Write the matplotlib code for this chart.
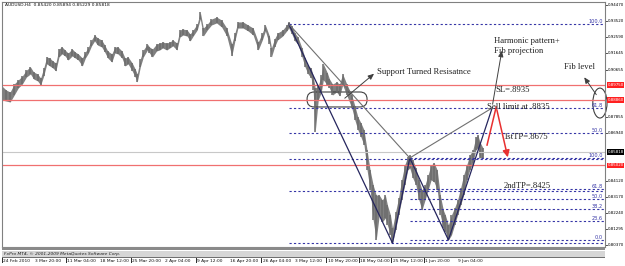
import matplotlib
matplotlib.use("Agg")
import matplotlib.pyplot as plt
from matplotlib.patches import Ellipse, FancyBboxPatch, Rectangle

bar_idx = [0, 4, 8, 12, 16, 20, 24, 28, 31, 35, 38, 41, 44, 47, 50, 53, 56, 59, 62, 65,
           69, 72, 75, 79, 82, 85, 88, 91, 94, 98, 101, 104, 108, 111, 114, 118, 121, 124,
           128, 131, 133, 136, 139, 143, 145, 148, 152, 155, 158, 162, 165, 168, 172, 175,
           178, 182, 185, 188, 192, 195, 198, 202, 206, 211, 216, 221, 226, 229, 232, 237,
           242, 247, 252, 256, 259, 263, 265, 268, 271, 276, 280, 282, 285, 288, 291, 295,
           298, 301, 304, 306, 308, 311, 314, 316, 320, 322, 325, 329, 332, 335, 339, 344,
           347, 350, 353, 356, 359, 362, 365, 368, 371, 374, 377, 379, 382, 384, 387, 390,
           393, 396, 399, 401, 404, 407, 410, 413, 416, 419, 422, 425, 428, 431, 434, 436,
           439, 442, 445, 448, 451, 454, 457, 460, 463, 466, 468, 470, 473]
bar_high = [0.8969, 0.8946, 0.8934, 0.8981, 0.9005, 0.9028, 0.9063, 0.9081, 0.9052, 0.9040,
            0.9016, 0.9075, 0.9140, 0.9134, 0.9116, 0.9105, 0.9187, 0.9199, 0.9181, 0.9163,
            0.9187, 0.9169, 0.9158, 0.9134, 0.9169, 0.9199, 0.9240, 0.9269, 0.9252, 0.9240,
            0.9210, 0.9175, 0.9158, 0.9199, 0.9199, 0.9175, 0.9134, 0.9140, 0.9105, 0.9069,
            0.9040, 0.9128, 0.9181, 0.9216, 0.9199, 0.9187, 0.9216, 0.9222, 0.9228, 0.9222,
            0.9228, 0.9240, 0.9222, 0.9299, 0.9304, 0.9299, 0.9275, 0.9299, 0.9334, 0.9404,
            0.9310, 0.9334, 0.9363, 0.9375, 0.9357, 0.9310, 0.9216, 0.9281, 0.9346, 0.9346,
            0.9328, 0.9310, 0.9228, 0.9281, 0.9328, 0.9263, 0.9193, 0.9246, 0.9281, 0.9299,
            0.9328, 0.9346, 0.9322, 0.9281, 0.9257, 0.9193, 0.9134, 0.9087, 0.9075, 0.9028,
            0.8958, 0.8969, 0.9034, 0.9099, 0.9046, 0.9011, 0.8981, 0.8993, 0.8981, 0.9040,
            0.8981, 0.8916, 0.8852, 0.8787, 0.8752, 0.8711, 0.8593, 0.8475, 0.8387, 0.8328,
            0.8328, 0.8299, 0.8328, 0.8270, 0.8211, 0.8134, 0.8228, 0.8311, 0.8417, 0.8505,
            0.8552, 0.8564, 0.8534, 0.8487, 0.8417, 0.8358, 0.8387, 0.8446, 0.8505, 0.8517,
            0.8475, 0.8328, 0.8240, 0.8211, 0.8152, 0.8211, 0.8252, 0.8299, 0.8370, 0.8446,
            0.8505, 0.8564, 0.8593, 0.8669, 0.8681, 0.8640, 0.8605]
bar_low = [0.8887, 0.8881, 0.8875, 0.8916, 0.8958, 0.8981, 0.9022, 0.9040, 0.9011, 0.8999,
           0.8975, 0.9028, 0.9099, 0.9087, 0.9075, 0.9058, 0.9140, 0.9158, 0.9146, 0.9122,
           0.9146, 0.9134, 0.9122, 0.9087, 0.9134, 0.9163, 0.9205, 0.9234, 0.9210, 0.9199,
           0.9169, 0.9134, 0.9110, 0.9163, 0.9158, 0.9134, 0.9087, 0.9099, 0.9058, 0.9022,
           0.8993, 0.9081, 0.9140, 0.9181, 0.9163, 0.9140, 0.9175, 0.9181, 0.9193, 0.9181,
           0.9193, 0.9205, 0.9181, 0.9257, 0.9269, 0.9263, 0.9234, 0.9263, 0.9299, 0.9363,
           0.9263, 0.9299, 0.9328, 0.9340, 0.9316, 0.9263, 0.9146, 0.9234, 0.9310, 0.9310,
           0.9293, 0.9269, 0.9181, 0.9240, 0.9293, 0.9216, 0.9140, 0.9199, 0.9240, 0.9263,
           0.9293, 0.9310, 0.9275, 0.9234, 0.9216, 0.9140, 0.9081, 0.9040, 0.9016, 0.8946,
           0.8699, 0.8887, 0.8934, 0.9005, 0.8975, 0.8958, 0.8916, 0.8934, 0.8911, 0.8975,
           0.8916, 0.8840, 0.8769, 0.8711, 0.8669, 0.8622, 0.8475, 0.8358, 0.8181, 0.8064,
           0.8211, 0.8170, 0.8193, 0.8152, 0.8093, 0.8046, 0.8123, 0.8211, 0.8299, 0.8387,
           0.8475, 0.8487, 0.8428, 0.8387, 0.8299, 0.8240, 0.8299, 0.8358, 0.8417, 0.8405,
           0.8358, 0.8211, 0.8134, 0.8111, 0.8064, 0.8093, 0.8152, 0.8211, 0.8270, 0.8328,
           0.8417, 0.8475, 0.8517, 0.8593, 0.8605, 0.8546, 0.8546]

# XABCD pivots
pivot_bar = [282, 384, 401, 439, 482]
pivot_price = [0.9334, 0.8046, 0.8546, 0.8064, 0.8840]

fib_ratios = [0.0, 0.236, 0.382, 0.5, 0.618, 1.0]
fib_labels = ["0.0", "23.6", "38.2", "50.0", "61.8", "100.0"]

red_levels = [0.8975, 0.8886, 0.8502]
bid_price = 0.85818
header = "AUDUSD,H4  0.85420 0.85894 0.85229 0.85818"

price_ticks = [0.94470, 0.93520, 0.92590, 0.91645, 0.90655, 0.87855, 0.86940,
               0.84120, 0.83170, 0.82240, 0.81295, 0.80370]
date_pos = [0, 31, 63, 95, 127, 159, 191, 223, 255, 287, 319, 351, 383, 415, 447]
date_labels = ["24 Feb 2010", "3 Mar 20:00", "11 Mar 04:00", "18 Mar 12:00",
               "25 Mar 20:00", "2 Apr 04:00", "9 Apr 12:00", "16 Apr 20:00",
               "26 Apr 04:00", "3 May 12:00", "10 May 20:00", "18 May 04:00",
               "25 May 12:00", "1 Jun 20:00", "9 Jun 04:00"]

W, H = 625, 266
X_MAX = 593
Y_LIM = (0.80226, 0.94632)
SERIF = "Liberation Serif"
BLUE = "#3636a6"
NAVY = "#26265e"
SMALL = 3.2
SCALE = 2.9

fig = plt.figure(figsize=(W / 100, H / 100), dpi=100)
ax = fig.add_axes([2 / W, 19 / H, 603 / W, 245 / H])
ax.set_xlim(0, X_MAX)
ax.set_ylim(*Y_LIM)
ax.set_xticks([])
ax.set_yticks([])
for s in ax.spines.values():
    s.set_color("#808080")
    s.set_linewidth(0.8)

# price bars
ax.fill_between(bar_idx, bar_low, bar_high, color="#808080", lw=0)
ax.vlines(bar_idx, bar_low, bar_high, color="#6c6c6c", lw=1.1)

# horizontal levels
for lv in red_levels:
    ax.axhline(lv, color="#f07070", lw=0.9)
ax.axhline(bid_price, color="#c8c8c8", lw=0.8)

# fib retracements: XA from X, BC from B
xa_hi, xa_lo = pivot_price[0], pivot_price[1]
bc_hi, bc_lo = pivot_price[2], pivot_price[3]
for r, lab in zip(fib_ratios, fib_labels):
    lv = xa_lo + r * (xa_hi - xa_lo)
    ax.hlines(lv, pivot_bar[0], X_MAX, colors=BLUE, linestyles=(0, (2, 2)), lw=0.8)
    if lab in ("100.0", "61.8", "50.0"):
        ax.text(X_MAX - 2, lv, lab, ha="right", va="bottom", fontsize=3.6, color=BLUE)
for r, lab in zip(fib_ratios, fib_labels):
    lv = bc_lo + r * (bc_hi - bc_lo)
    ax.hlines(lv, pivot_bar[2], X_MAX, colors=BLUE, linestyles=(0, (2, 2)), lw=0.8)
    ax.text(X_MAX - 2, lv, lab, ha="right", va="bottom", fontsize=3.6, color=BLUE)

# XABCD legs and the X-B / B-D connectors
ax.plot(pivot_bar, pivot_price, color=NAVY, lw=0.9)
ax.plot([pivot_bar[0], pivot_bar[2]], [pivot_price[0], pivot_price[2]], color="#707070", lw=0.8)
ax.plot([pivot_bar[2], pivot_bar[4]], [pivot_price[2], pivot_price[4]], color="#707070", lw=0.8)

# arrows to the notes
arrow_kw = dict(arrowstyle="-|>,head_length=0.35,head_width=0.15", color="#404040", lw=0.7)
ax.annotate("", xy=(368, 0.9052), xytext=(335, 0.8887), arrowprops=arrow_kw)
ax.annotate("", xy=(492, 0.9193), xytext=(482, 0.8846), arrowprops=arrow_kw)
ax.annotate("", xy=(571, 0.9034), xytext=(586, 0.8905), arrowprops=arrow_kw, annotation_clip=False)

# red projected move
ax.plot([477, 486], [0.8622, 0.8846], color="#e83030", lw=1.1)
ax.annotate("", xy=(498, 0.8534), xytext=(486, 0.8846),
            arrowprops=dict(arrowstyle="-|>,head_length=0.4,head_width=0.2",
                            color="#e83030", lw=1.1))

# zone markers
ax.add_patch(FancyBboxPatch((300, 0.8846), 59, 0.0088,
                            boxstyle="round,pad=0,rounding_size=7", mutation_aspect=0.000598,
                            fill=False, ec="#404040", lw=0.8))
ax.add_patch(Ellipse((588, 0.8869), 14, 0.0176, fill=False, ec="#404040", lw=0.8,
                     clip_on=False))

# notes
note_kw = dict(family=SERIF, fontsize=6.2, color="#202020", va="center")
ax.text(369, 0.9052, "Support Turned Resisatnce", **note_kw)
ax.text(484, 0.9234, "Harmonic pattern+", **note_kw)
ax.text(484, 0.9175, "Fib projection", **note_kw)
ax.text(553, 0.9081, "Fib level", **note_kw)
ax.text(485, 0.8946, "SL=.8935", **note_kw)
ax.text(477, 0.8846, "Sell limit at .8835", **note_kw)
ax.text(493, 0.8669, "1stTP=.8675", **note_kw)
ax.text(493, 0.8381, "2ndTP=.8425", **note_kw)

ax.text(3, 0.9443, header, fontsize=SMALL, va="center", color="#101010")

# right price scale
ytr = ax.get_yaxis_transform()
for v in price_ticks:
    ax.plot([1.0, 1.004], [v, v], transform=ytr, color="#303030", lw=0.6, clip_on=False)
    ax.text(1.005, v, f"{v:.5f}", transform=ytr, fontsize=SCALE, va="center", clip_on=False)
for v in red_levels:
    ax.text(1.004, v, f"{v:.5f}", transform=ytr, fontsize=SCALE, va="center", color="white",
            clip_on=False, bbox=dict(boxstyle="square,pad=0.2", fc="#ff2020", ec="none"))
ax.text(1.004, bid_price, f"{bid_price:.5f}", transform=ytr, fontsize=SCALE, va="center",
        color="white", clip_on=False, bbox=dict(boxstyle="square,pad=0.2", fc="black", ec="none"))

# bottom strip: separator bars, copyright line and time scale
fig.add_artist(Rectangle((2 / W, 1 - 250 / H), 603 / W, 3 / H, transform=fig.transFigure,
                         color="#8a8a8a", lw=0))
fig.add_artist(Rectangle((2 / W, 1 - 257 / H), 603 / W, 6 / H, transform=fig.transFigure,
                         color="#d6d6d6", lw=0))
fig.add_artist(Rectangle((2 / W, 1 - 258 / H), 603 / W, 1 / H, transform=fig.transFigure,
                         color="#707070", lw=0))
fig.text(4 / W, 1 - 254 / H, "FxPro MT4, \u00a9 2001-2009 MetaQuotes Software Corp.",
         fontsize=SMALL, style="italic", va="center", color="#202020")
for b, lab in zip(date_pos, date_labels):
    px = 2 + b * 603 / X_MAX
    fig.add_artist(Rectangle((px / W, 1 - 263 / H), 0.6 / W, 5 / H, transform=fig.transFigure,
                             color="#303030", lw=0))
    fig.text((px + 1.2) / W, 1 - 261 / H, lab, fontsize=SMALL, va="center", color="#101010")

fig.savefig("out.png", dpi=100)
